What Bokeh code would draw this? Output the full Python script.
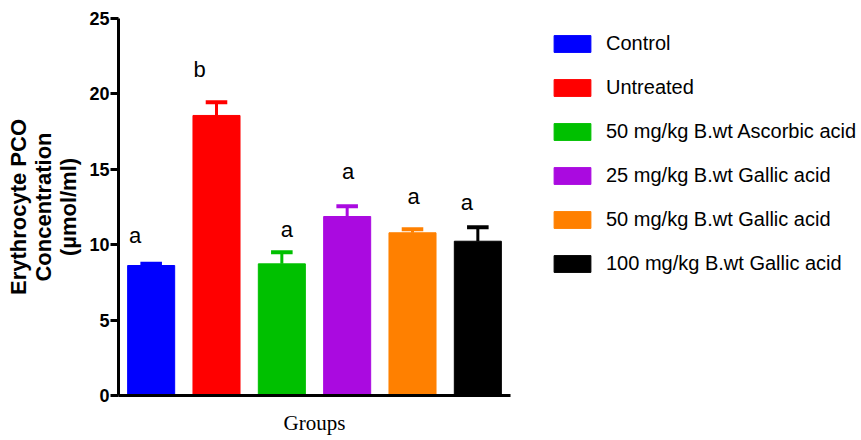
import numpy as np
from bokeh.plotting import figure
from bokeh.models import (ColumnDataSource, Range1d, Legend, LegendItem,
                          FixedTicker)
from bokeh.core.properties import value
from bokeh.embed import file_html
from bokeh.resources import INLINE

# ---- data ----
groups = ["Control", "Untreated", "50 mg/kg B.wt Ascorbic acid",
          "25 mg/kg B.wt Gallic acid", "50 mg/kg B.wt Gallic acid",
          "100 mg/kg B.wt Gallic acid"]
means = [8.62, 18.57, 8.73, 11.87, 10.79, 10.23]
sem = [0.11, 0.88, 0.77, 0.68, 0.24, 0.93]
letters = ["a", "b", "a", "a", "a", "a"]
letter_y = [9.8, 20.8, 10.15, 14.0, 12.4, 12.0]
colors = ["#0000FF", "#FF0000", "#00C000", "#AA0AE0", "#FF8000", "#000000"]
y_ticks = [0, 5, 10, 15, 20, 25]

# style offsets for significance letters (px)
letter_dx = [-16, -17, 5, 1, 1, -11]

x = np.arange(len(groups)) + 0.5
upper = [m + s for m, s in zip(means, sem)]
src = ColumnDataSource(dict(x=x, top=means, upper=upper, color=colors,
                            cap0=x - 0.165, cap1=x + 0.165,
                            letter=letters, ly=letter_y, dx=letter_dx))

p = figure(frame_width=392, frame_height=377, output_backend="svg",
           toolbar_location=None,
           x_range=Range1d(0, len(groups)), y_range=Range1d(0, 25),
           min_border_left=118, min_border_right=0, min_border_top=18,
           min_border_bottom=40)
p.outline_line_color = None
p.xgrid.visible = False
p.ygrid.visible = False

bars = p.vbar(x="x", top="top", width=0.72, color="color", source=src)
p.segment(x0="x", x1="x", y0="top", y1="upper", line_color="color",
          line_width=3, source=src)
p.segment(x0="cap0", x1="cap1", y0="upper", y1="upper", line_color="color",
          line_width=4, source=src)
p.text(x="x", y="ly", text="letter", x_offset="dx", text_align="center",
       text_baseline="bottom", text_font=value("Liberation Sans"),
       text_font_size="22px", text_color="black", source=src)

# axes
p.yaxis.ticker = FixedTicker(ticks=y_ticks)
p.yaxis.axis_line_width = 3
p.yaxis.major_tick_line_width = 3
p.yaxis.major_tick_out = 8
p.yaxis.major_tick_in = 0
p.yaxis.minor_tick_line_color = None
p.yaxis.major_label_text_font = "Liberation Sans"
p.yaxis.major_label_text_font_style = "bold"
p.yaxis.major_label_text_font_size = "18px"
p.yaxis.major_label_text_color = "black"
p.yaxis.major_label_standoff = 1
p.yaxis.axis_label = "Erythrocyte PCO\nConcentration\n(µmol/ml)"
p.yaxis.axis_label_text_font = "Liberation Sans"
p.yaxis.axis_label_text_font_style = "bold"
p.yaxis.axis_label_text_font_size = "22px"
p.yaxis.axis_label_text_color = "black"
p.yaxis.axis_label_text_line_height = 1.0
p.yaxis.axis_label_standoff = 5

p.xaxis.ticker = FixedTicker(ticks=[])
p.xaxis.axis_line_width = 3
p.xaxis.major_tick_line_color = None
p.xaxis.minor_tick_line_color = None
p.xaxis.major_label_text_font_size = "0px"
p.xaxis.axis_label = "Groups"
p.xaxis.axis_label_text_font = "Liberation Serif"
p.xaxis.axis_label_text_font_style = "normal"
p.xaxis.axis_label_text_font_size = "21px"
p.xaxis.axis_label_text_color = "black"
p.xaxis.axis_label_standoff = 15

# legend
items = [LegendItem(label=g, renderers=[bars], index=i)
         for i, g in enumerate(groups)]
legend = Legend(items=items, location=(39, 120), orientation="vertical",
                glyph_width=46, glyph_height=21, label_height=22,
                spacing=21, label_standoff=11, padding=0, margin=0,
                label_text_font="Liberation Sans", label_text_font_size="20px",
                label_text_color="black", border_line_color=None,
                background_fill_alpha=0)
p.add_layout(legend, "right")

open("out.html", "w").write(file_html(p, INLINE))
